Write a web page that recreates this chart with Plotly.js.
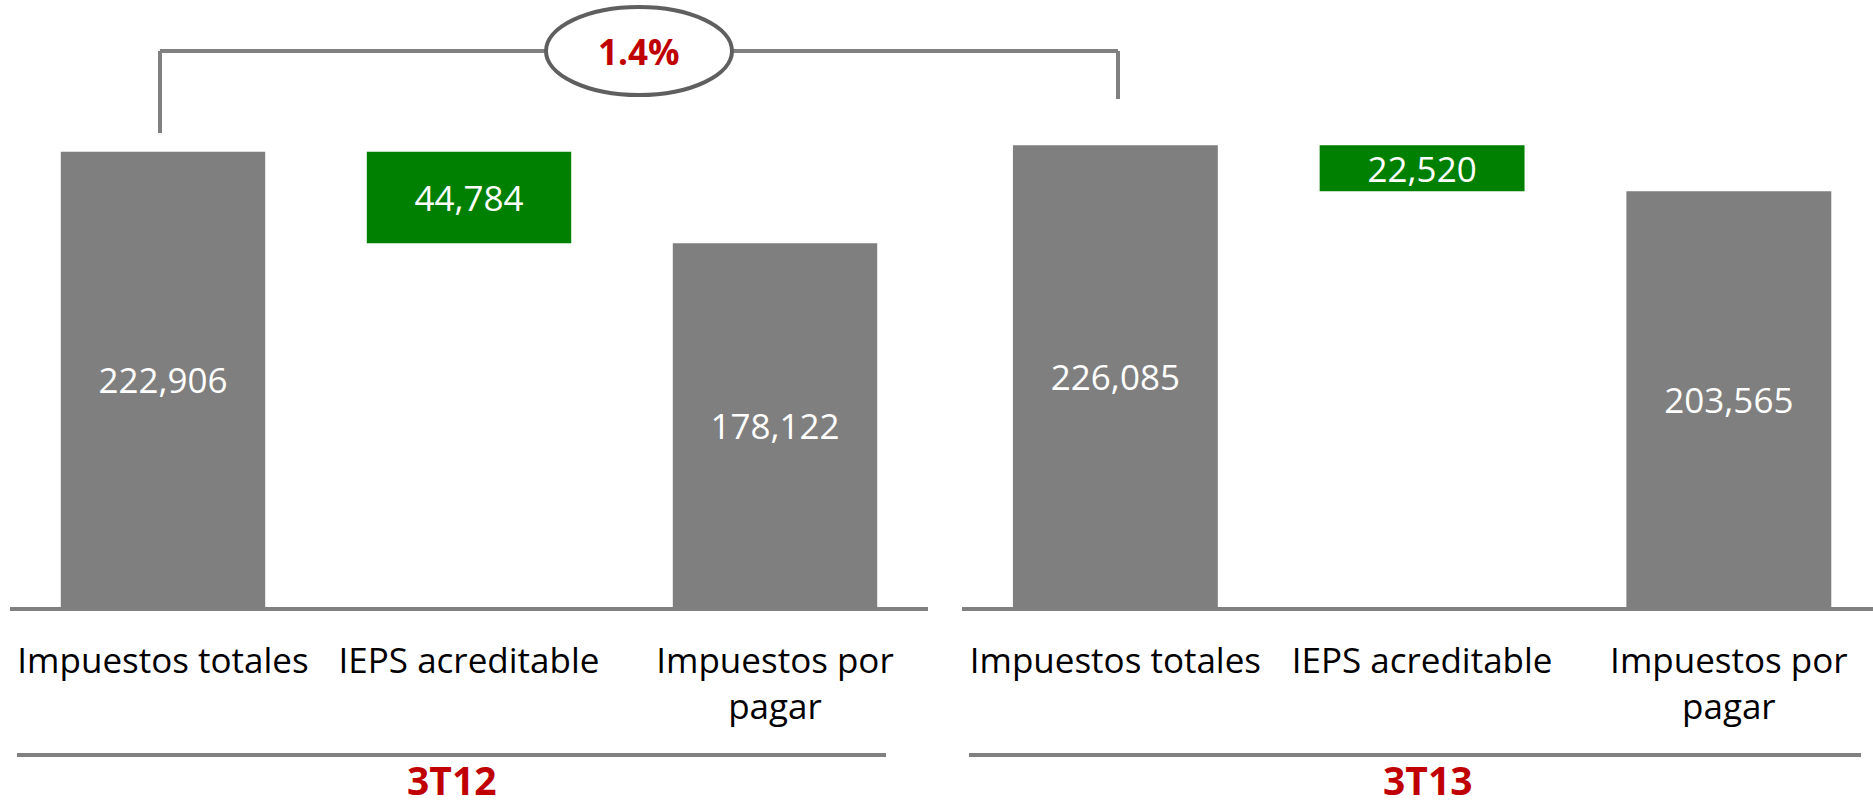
<!DOCTYPE html>
<html><head><meta charset="utf-8">
<script src="https://cdn.plot.ly/plotly-3.0.1.min.js"></script>
<style>html,body{margin:0;padding:0;background:#fff}#chart{width:1873px;height:809px}</style>
</head><body><div id="chart"></div>
<script>
// ---- data ----
const categories = ['Impuestos totales', 'IEPS acreditable', 'Impuestos por<br>pagar'];
const periods = ['3T12', '3T13'];
const values3T12 = [222906, 44784, 178122];
const values3T13 = [226085, 22520, 203565];
const growthLabel = '1.4%';

// ---- styles ----
const GRAY = '#7f7f7f';
const GREEN = '#008000';
const RED = '#c00000';
const FONT = 'Open Sans, Noto Sans, sans-serif';
const W = 1873, H = 809, BASE_Y = 607;

function makeTrace(vals, xa) {
  const base = [0, vals[0] - vals[1], 0];
  return {
    type: 'bar',
    x: categories,
    y: vals,
    base: base,
    xaxis: xa, yaxis: 'y',
    width: 0.668,
    marker: {color: [GRAY, GREEN, GRAY], line: {width: 0}},
    text: vals.map(v => v.toLocaleString('en-US')),
    textposition: 'inside',
    insidetextanchor: 'middle',
    constraintext: 'none',
    textfont: {family: FONT, size: 35, color: '#ffffff'},
    hoverinfo: 'skip'
  };
}

const px = v => v / W;
const py = v => (BASE_Y - v) / BASE_Y;

const axisCommon = {
  type: 'category',
  showline: true, linecolor: '#808080', linewidth: 4,
  showgrid: false, zeroline: false,
  ticks: 'outside', ticklen: 20, tickcolor: 'rgba(0,0,0,0)',
  tickfont: {family: FONT, size: 35, color: '#000000'},
  fixedrange: true, anchor: 'y'
};

const layout = {
  width: W, height: H,
  margin: {l: 0, r: 0, t: 0, b: H - BASE_Y},
  paper_bgcolor: '#ffffff', plot_bgcolor: '#ffffff',
  showlegend: false,
  xaxis: Object.assign({}, axisCommon, {domain: [px(10), px(928)], range: [-0.5, 2.5]}),
  xaxis2: Object.assign({}, axisCommon, {domain: [px(962), 1], range: [-0.5, 2.47]}),
  yaxis: {visible: false, range: [0, BASE_Y * 489.7], fixedrange: true},
  shapes: [
    // bracket
    {type: 'line', xref: 'paper', yref: 'paper', x0: px(160), x1: px(160), y0: py(133), y1: py(51), line: {color: '#808080', width: 4}},
    {type: 'line', xref: 'paper', yref: 'paper', x0: px(160), x1: px(1118), y0: py(51), y1: py(51), line: {color: '#808080', width: 4}},
    {type: 'line', xref: 'paper', yref: 'paper', x0: px(1118), x1: px(1118), y0: py(51), y1: py(99), line: {color: '#808080', width: 4}},
    {type: 'circle', xref: 'paper', yref: 'paper', x0: px(546), x1: px(732), y0: py(95), y1: py(7), fillcolor: '#ffffff', line: {color: '#5f5f5f', width: 4}},
    // period separators
    {type: 'line', xref: 'paper', yref: 'paper', x0: px(17), x1: px(886), y0: py(755), y1: py(755), line: {color: '#808080', width: 4}},
    {type: 'line', xref: 'paper', yref: 'paper', x0: px(969), x1: px(1861), y0: py(755), y1: py(755), line: {color: '#808080', width: 4}}
  ],
  annotations: [
    {xref: 'paper', yref: 'paper', x: px(639), y: py(52), text: '<b>' + growthLabel + '</b>', showarrow: false, xanchor: 'center', yanchor: 'middle', font: {family: FONT, size: 35, color: RED}},
    {xref: 'paper', yref: 'paper', x: px(451), y: py(808), text: '<b>' + periods[0] + '</b>', showarrow: false, xanchor: 'center', yanchor: 'bottom', font: {family: FONT, size: 39, color: RED}},
    {xref: 'paper', yref: 'paper', x: px(1427), y: py(808), text: '<b>' + periods[1] + '</b>', showarrow: false, xanchor: 'center', yanchor: 'bottom', font: {family: FONT, size: 39, color: RED}}
  ]
};

Plotly.newPlot('chart', [makeTrace(values3T12, 'x'), makeTrace(values3T13, 'x2')], layout, {displayModeBar: false, staticPlot: true});
</script>
</body></html>
